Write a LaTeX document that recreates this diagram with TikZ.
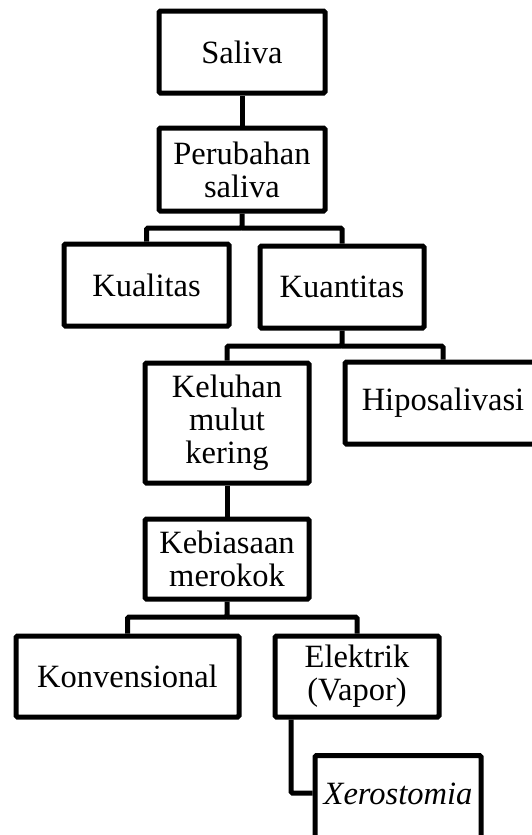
\documentclass[tikz,border=0pt]{standalone}
\usepackage{fontspec}
\setmainfont{Liberation Serif}
\usetikzlibrary{calc}
\begin{document}
\begin{tikzpicture}[x=1pt,y=-1pt,
  box/.style={draw, line width=5pt, rounded corners=1.5pt, inner sep=0pt, align=center, font=\fontsize{32.5}{33}\selectfont},
  conn/.style={draw, line width=5pt, rounded corners=1.5pt}]
\useasboundingbox (0,0) rectangle (532,835);
\clip (0,0) rectangle (532,835);
\node[box, minimum width=166pt, minimum height=82pt] (saliva) at (242,52) {Saliva};
\node[box, minimum width=166pt, minimum height=83pt] (perub) at (242,169.5) {Perubahan\\saliva};
\node[box, minimum width=165pt, minimum height=82pt] (kual) at (146.5,285) {Kualitas};
\node[box, minimum width=164pt, minimum height=82pt] (kuan) at (342,287) {Kuantitas};
\node[box, minimum width=164pt, minimum height=120pt] (kel) at (227,423) {Keluhan\\mulut\\kering};
\node[box, minimum width=196pt, minimum height=82pt] (hipo) at (443,403) {Hiposalivasi};
\node[box, minimum width=164pt, minimum height=80pt] (kebi) at (227,559) {Kebiasaan\\merokok};
\node[box, minimum width=223pt, minimum height=81pt] (konv) at (127.5,676.5) {Konvensional};
\node[box, minimum width=164pt, minimum height=81pt] (elek) at (357,676.5) {Elektrik\\(Vapor)};
\node[box, minimum width=166pt, text height=49pt, text depth=38pt, anchor=north] (xero) at (398,753) {\itshape Xerostomia};

\coordinate (b1) at (242,228);
\coordinate (b2) at (342,346);
\coordinate (b3) at (227,617);
\coordinate (e0) at (291,717);
\coordinate (xk) at (291,793);

\draw[conn] (saliva) -- (perub);
\draw[conn] (perub.south) -- (b1) -| (kual.north);
\draw[conn] (b1) -| (kuan.north);
\draw[conn] (kuan.south) -- (b2) -| (kel.north);
\draw[conn] (b2) -| (hipo.north);
\draw[conn] (kel) -- (kebi);
\draw[conn] (kebi.south) -- (b3) -| (konv.north);
\draw[conn] (b3) -| (elek.north);
\draw[conn] (elek.south -| e0) -- (xk) -- (xk -| xero.west);
\end{tikzpicture}
\end{document}
